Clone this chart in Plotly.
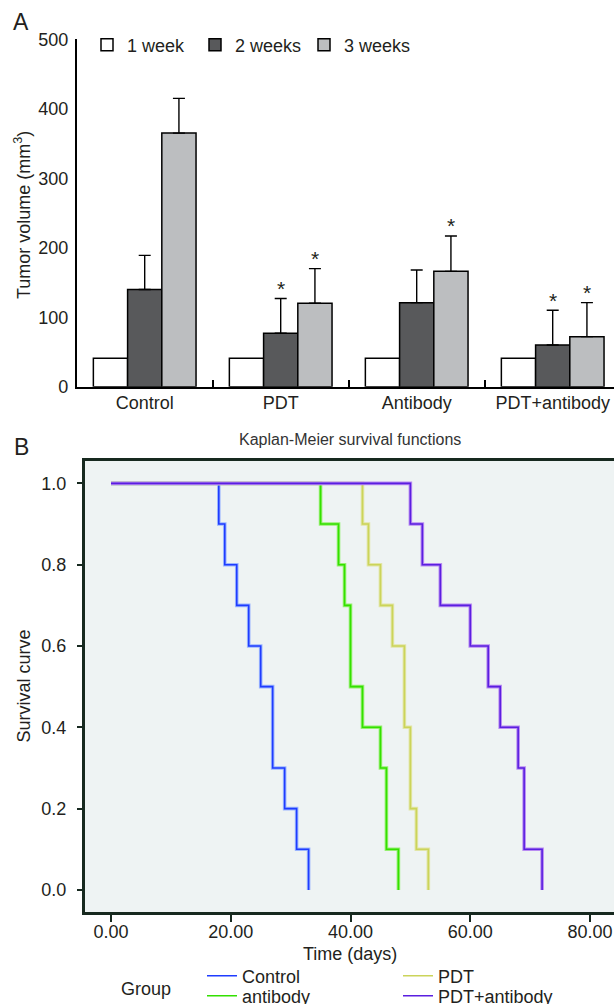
import plotly.graph_objects as go

W, H = 614, 1004
def fx(px): return px / W
def fy(py): return 1 - py / H

# ---------------- Panel A data ----------------
groups = ["Control", "PDT", "Antibody", "PDT+antibody"]
week_labels = ["1 week", "2 weeks", "3 weeks"]
week1 = [41, 41, 41, 41]
week2 = [140, 77, 121, 60]
week3 = [365, 120, 166, 72]
week2_sd = [49, 50, 47, 50]
week3_sd = [50, 50, 51, 49]
week2_sig = [False, True, False, True]
week3_sig = [False, True, True, True]
vol_ticks = [0, 100, 200, 300, 400, 500]
bar_colors = ["#ffffff", "#58595b", "#bcbec0"]

# ---------------- Panel B data ----------------
control_t = [0, 18, 19, 21, 23, 25, 27, 29, 31, 33]
control_s = [1.0, 0.9, 0.8, 0.7, 0.6, 0.5, 0.3, 0.2, 0.1, 0.0]
antibody_t = [0, 35, 38, 39, 40, 42, 45, 46, 48]
antibody_s = [1.0, 0.9, 0.8, 0.7, 0.5, 0.4, 0.3, 0.1, 0.0]
pdt_t = [0, 42, 43, 45, 47, 49, 50, 51, 53]
pdt_s = [1.0, 0.9, 0.8, 0.7, 0.6, 0.4, 0.2, 0.1, 0.0]
combo_t = [0, 50, 52, 55, 60, 63, 65, 68, 69, 72]
combo_s = [1.0, 0.9, 0.8, 0.7, 0.6, 0.5, 0.4, 0.3, 0.1, 0.0]
km_names = ["Control", "antibody", "PDT", "PDT+antibody"]
km_core = ["#1f3cff", "#33e000", "#cbd45a", "#5a1fe0"]
km_halo = ["#9bb5ff", "#96f070", "#e2e6a6", "#b98cf2"]
time_ticks = [0, 20, 40, 60, 80]
surv_ticks = [0.0, 0.2, 0.4, 0.6, 0.8, 1.0]

FONT = "Liberation Sans, Arial, Helvetica, sans-serif"
TXT = "#231f20"
AXG = "#17291f"

fig = go.Figure()

# ---- bars ----
week_vals = [week1, week2, week3]
week_sd = [None, week2_sd, week3_sd]
legend_ids = ["legend", "legend6", "legend7"]
for i in range(3):
    err = None
    if week_sd[i] is not None:
        err = dict(type="data", symmetric=False, array=week_sd[i],
                   arrayminus=[0] * len(groups), color="black",
                   thickness=1.4, width=6)
    fig.add_trace(go.Bar(
        x=groups, y=week_vals[i], name=week_labels[i],
        marker=dict(color=bar_colors[i], line=dict(color="black", width=1.5)),
        error_y=err, legend=legend_ids[i], xaxis="x", yaxis="y",
    ))

# ---- survival curves ----
km_t = [control_t, antibody_t, pdt_t, combo_t]
km_s = [control_s, antibody_s, pdt_s, combo_s]
km_leg = ["legend2", "legend4", "legend3", "legend5"]
for i in range(4):
    fig.add_trace(go.Scatter(
        x=km_t[i], y=km_s[i], mode="lines", line=dict(shape="hv", color=km_halo[i], width=3.6),
        showlegend=False, xaxis="x2", yaxis="y2", hoverinfo="skip"))
    fig.add_trace(go.Scatter(
        x=km_t[i], y=km_s[i], mode="lines", name=km_names[i],
        line=dict(shape="hv", color=km_core[i], width=1.6),
        legend=km_leg[i], xaxis="x2", yaxis="y2"))

# ---- asterisks ----
bar_w = (1 - 0.245) / 3
annos = []
for j in range(len(groups)):
    if week2_sig[j]:
        annos.append(dict(x=j, y=week2[j] + week2_sd[j], xref="x", yref="y", text="*",
                          showarrow=False, yanchor="middle", yshift=10,
                          font=dict(size=21, color=TXT, family=FONT)))
    if week3_sig[j]:
        annos.append(dict(x=j + bar_w, y=week3[j] + week3_sd[j], xref="x", yref="y", text="*",
                          showarrow=False, yanchor="middle", yshift=10,
                          font=dict(size=21, color=TXT, family=FONT)))

def txt(px, py, s, size=18, angle=0, color=TXT, xanchor="center"):
    return dict(x=fx(px), y=fy(py), xref="paper", yref="paper", text=s, showarrow=False,
                xanchor=xanchor, yanchor="middle", textangle=angle,
                font=dict(size=size, color=color, family=FONT))

annos += [
    txt(21, 22, "A", 23),
    txt(21, 447, "B", 23),
    txt(22, 215, "Tumor volume (mm<sup>3</sup>)", 18, -90),
    txt(349.5, 439, "Kaplan-Meier survival functions", 16, 0, "#333333"),
    txt(24, 686.6, "Survival curve", 18, -90),
    txt(349.5, 954, "Time (days)", 18),
    txt(145.5, 989, "Group", 18),
]

# background of panel B
shapes = [dict(type="rect", xref="x2 domain", yref="y2 domain", x0=0, x1=1, y0=0, y1=1,
               fillcolor="#eef3f3", line=dict(width=0), layer="below")]

def leg(px, py):
    return dict(x=fx(px), y=fy(py), xanchor="left", yanchor="middle", orientation="v",
                bgcolor="rgba(0,0,0,0)", borderwidth=0,
                font=dict(size=18, color=TXT, family=FONT), itemwidth=30)

fig.update_layout(
    width=W, height=H, autosize=False,
    margin=dict(l=0, r=0, t=0, b=0, autoexpand=False),
    paper_bgcolor="white", plot_bgcolor="rgba(0,0,0,0)",
    font=dict(family=FONT, size=18, color=TXT),
    barmode="group", bargap=0.245, bargroupgap=0,
    showlegend=True,
    legend=leg(87, 45), legend6=leg(195, 45), legend7=leg(304, 45),
    legend2=leg(202, 976), legend3=leg(398, 976),
    legend4=leg(202, 996), legend5=leg(398, 996),
    xaxis=dict(domain=[fx(76.7), 1.0], type="category", range=[-0.5, -0.5 + (614 - 76.7) / 136],
               showline=True, linecolor="black", linewidth=1.5,
               ticks="inside", tickson="boundaries", ticklen=7, tickwidth=1.5, tickcolor="black",
               showgrid=False, zeroline=False, anchor="y",
               tickfont=dict(size=18, color=TXT), ticklabelstandoff=-1),
    yaxis=dict(domain=[fy(386.7), fy(39.3)], range=[0, 500], tickvals=vol_ticks,
               showline=True, linecolor="black", linewidth=1.5, ticks="",
               showgrid=False, zeroline=False, anchor="x",
               tickfont=dict(size=18, color=TXT), ticklabelstandoff=3),
    xaxis2=dict(domain=[fx(85), 1.0], range=[(85 - 111) / 5.9875, (614 - 111) / 5.9875],
                tickvals=time_ticks, tickformat=".2f",
                showline=True, mirror=True, linecolor=AXG, linewidth=3,
                ticks="outside", ticklen=7, tickwidth=2, tickcolor=AXG,
                showgrid=False, zeroline=False, anchor="y2",
                tickfont=dict(size=18, color=TXT), ticklabelstandoff=-6),
    yaxis2=dict(domain=[fy(912.3), fy(461)], range=[-0.055, 1.055],
                tickvals=surv_ticks, tickformat=".1f",
                showline=True, linecolor=AXG, linewidth=3,
                ticks="outside", ticklen=5, tickwidth=2, tickcolor=AXG,
                showgrid=False, zeroline=False, anchor="x2",
                tickfont=dict(size=18, color=TXT), ticklabelstandoff=7),
    annotations=annos, shapes=shapes,
)

fig.write_html("out.html", config={"displayModeBar": False},
               post_script="document.body.style.margin='0';document.body.style.padding='0';")
